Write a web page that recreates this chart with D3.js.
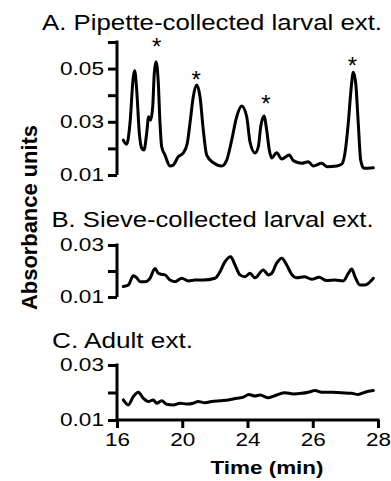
<!DOCTYPE html>
<html>
<head>
<meta charset="utf-8">
<script src="https://cdn.jsdelivr.net/npm/d3@7"></script>
<style>
  html, body { margin: 0; padding: 0; background: #fff; }
  svg { display: block; }
  text { font-family: Arial, "Liberation Sans", Helvetica, sans-serif; fill: #000; }
</style>
</head>
<body>
<svg id="chart" width="391" height="481"></svg>
<script>
// ---------- DATA ----------
const xTickValues = [16, 20, 24, 26, 28];
const xTickLabels = ["16", "20", "24", "26", "28"];

const panelTitles = ["A. Pipette-collected larval ext.", "B. Sieve-collected larval ext.", "C. Adult ext."];

const timesA = [16.386,16.595,16.797,16.999,17.085,17.208,17.367,17.514,17.655,17.821,17.943,18.066,18.189,18.286,18.391,18.532,18.636,18.740,18.943,19.249,19.452,19.758,20.064,20.310,20.475,20.677,20.886,21.088,21.290,21.499,21.903,22.418,22.725,23.031,23.338,23.644,23.951,24.077,24.230,24.331,24.405,24.506,24.588,24.668,24.742,24.895,25.048,25.281,25.404,25.661,25.864,26.017,26.274,26.446,26.734,26.887,26.988,27.089,27.172,27.242,27.316,27.395,27.469,27.570,27.855];
const valuesA = [0.0231,0.0216,0.0295,0.0469,0.0492,0.0419,0.0258,0.0201,0.0194,0.0258,0.0319,0.0307,0.0357,0.0483,0.0526,0.0446,0.0295,0.0206,0.0175,0.0134,0.0138,0.0169,0.0183,0.0220,0.0295,0.0394,0.0438,0.0394,0.0269,0.0175,0.0146,0.0134,0.0156,0.0231,0.0319,0.0359,0.0319,0.0224,0.0183,0.0206,0.0281,0.0322,0.0269,0.0194,0.0164,0.0184,0.0160,0.0175,0.0154,0.0144,0.0150,0.0134,0.0144,0.0131,0.0134,0.0141,0.0183,0.0295,0.0419,0.0486,0.0446,0.0295,0.0156,0.0125,0.0127];

const timesB = [16.386,16.693,16.999,17.208,17.410,17.716,18.023,18.329,18.532,18.740,18.943,19.249,19.555,19.966,20.371,20.782,21.290,22.008,22.314,22.621,22.970,23.234,23.541,23.847,24.077,24.230,24.484,24.638,24.742,24.895,25.048,25.202,25.355,25.508,25.741,25.968,26.192,26.428,26.682,26.936,27.090,27.194,27.295,27.448,27.601,27.856];
const valuesB = [0.0140,0.0146,0.0182,0.0174,0.0159,0.0159,0.0172,0.0210,0.0191,0.0187,0.0185,0.0165,0.0159,0.0172,0.0162,0.0165,0.0165,0.0172,0.0197,0.0236,0.0255,0.0223,0.0185,0.0178,0.0191,0.0174,0.0204,0.0185,0.0191,0.0230,0.0249,0.0223,0.0187,0.0174,0.0178,0.0168,0.0176,0.0163,0.0165,0.0162,0.0191,0.0208,0.0178,0.0146,0.0146,0.0172];

const timesC = [16.386,16.693,16.999,17.306,17.612,17.919,18.225,18.434,18.740,19.047,19.451,19.862,20.272,20.677,20.984,21.395,21.805,22.314,22.823,23.338,23.743,24.040,24.230,24.383,24.638,24.895,25.149,25.404,25.661,25.864,26.069,26.274,26.581,26.887,27.194,27.396,27.601,27.856];
const valuesC = [0.0173,0.0155,0.0185,0.0201,0.0179,0.0167,0.0173,0.0161,0.0170,0.0157,0.0155,0.0161,0.0158,0.0161,0.0167,0.0163,0.0167,0.0170,0.0173,0.0179,0.0183,0.0193,0.0187,0.0191,0.0181,0.0191,0.0199,0.0195,0.0197,0.0201,0.0207,0.0201,0.0201,0.0199,0.0197,0.0193,0.0201,0.0207];

// asterisks marking peaks in panel A
const starTimes = [18.434, 20.861, 24.561, 27.218];
const starValues = [0.0601, 0.0476, 0.0384, 0.0528];

const yTicksA = [0.01, 0.02, 0.03, 0.04, 0.05, 0.06];
const yLabelsA = [0.01, 0.03, 0.05];
const yTicksBC = [0.01, 0.02, 0.03];
const yLabelsBC = [0.01, 0.03];

// ---------- LAYOUT ----------
const svg = d3.select("#chart");
const x0 = 117, x1 = 378;
const x = d3.scaleLinear()
  .domain(xTickValues)
  .range(xTickValues.map((d, i) => x0 + i * (x1 - x0) / (xTickValues.length - 1)));

const panels = [
  { title: panelTitles[0], tx: 42, ty: 30, tl: 340, times: timesA, values: valuesA,
    domain: [0.01, 0.06], range: [175, 42], ticks: yTicksA, labels: yLabelsA },
  { title: panelTitles[1], tx: 51.5, ty: 227, tl: 322, times: timesB, values: valuesB,
    domain: [0.01, 0.03], range: [297, 245], ticks: yTicksBC, labels: yLabelsBC },
  { title: panelTitles[2], tx: 52, ty: 348, tl: 141, times: timesC, values: valuesC,
    domain: [0.01, 0.03], range: [420, 365], ticks: yTicksBC, labels: yLabelsBC }
];

const STROKE = 3;

panels.forEach((p, pi) => {
  const y = d3.scaleLinear().domain(p.domain).range(p.range);

  // title
  svg.append("text")
    .attr("x", p.tx).attr("y", p.ty)
    .attr("font-size", 22)
    .attr("textLength", p.tl)
    .attr("lengthAdjust", "spacingAndGlyphs")
    .text(p.title);

  // y axis
  const yAxis = d3.axisLeft(y)
    .tickValues(p.ticks)
    .tickSize(9)
    .tickSizeOuter(0)
    .tickPadding(4)
    .tickFormat(d => p.labels.some(l => Math.abs(l - d) < 1e-9) ? d3.format(".2f")(d) : "");
  const gy = svg.append("g").attr("transform", `translate(${x0},0)`).call(yAxis);
  gy.select(".domain").attr("stroke", "#000").attr("stroke-width", STROKE)
    .attr("d", `M0,${p.range[0] + (pi === 2 ? 1.5 : 0)}V${p.range[1] - 1.5}`);
  gy.selectAll(".tick line").attr("stroke", "#000").attr("stroke-width", STROKE);
  gy.selectAll(".tick text")
    .attr("fill", "#000")
    .attr("font-size", 18.5)
    .attr("font-family", 'Arial, "Liberation Sans", Helvetica, sans-serif')
    .attr("textLength", function () { return this.textContent ? 44 : null; })
    .attr("lengthAdjust", "spacingAndGlyphs");

  // trace
  const line = d3.line()
    .x((d, i) => x(p.times[i]))
    .y((d, i) => y(p.values[i]))
    .curve(d3.curveMonotoneX);
  svg.append("path")
    .datum(p.values)
    .attr("fill", "none")
    .attr("stroke", "#000")
    .attr("stroke-width", 3)
    .attr("stroke-linejoin", "round")
    .attr("stroke-linecap", "round")
    .attr("d", line);

  if (pi === 0) {
    svg.selectAll(".star")
      .data(starTimes)
      .enter().append("text")
      .attr("class", "star")
      .attr("x", d => x(d))
      .attr("y", (d, i) => y(starValues[i]) + 13)
      .attr("text-anchor", "middle")
      .attr("font-size", 24)
      .text("*");
  }

  if (pi === 2) {
    const xAxis = d3.axisBottom(x)
      .tickValues(xTickValues)
      .tickSize(8)
      .tickSizeOuter(0)
      .tickPadding(5)
      .tickFormat((d, i) => xTickLabels[i]);
    const gx = svg.append("g").attr("transform", `translate(0,${p.range[0]})`).call(xAxis);
    gx.select(".domain").attr("stroke", "#000").attr("stroke-width", STROKE)
      .attr("d", `M${x0},0H${x1 + 1.5}`);
    gx.selectAll(".tick line").attr("stroke", "#000").attr("stroke-width", STROKE);
    gx.selectAll(".tick text")
      .attr("fill", "#000")
      .attr("font-size", 18.5)
      .attr("font-family", 'Arial, "Liberation Sans", Helvetica, sans-serif')
      .attr("textLength", 25)
      .attr("lengthAdjust", "spacingAndGlyphs");
  }
});

// axis titles
svg.append("text")
  .attr("x", 267).attr("y", 474)
  .attr("text-anchor", "middle")
  .attr("font-size", 19)
  .attr("font-weight", "bold")
  .attr("textLength", 113)
  .attr("lengthAdjust", "spacingAndGlyphs")
  .text("Time (min)");

svg.append("text")
  .attr("transform", "translate(37,217.5) rotate(-90)")
  .attr("text-anchor", "middle")
  .attr("font-size", 22)
  .attr("font-weight", "bold")
  .attr("textLength", 185)
  .attr("lengthAdjust", "spacingAndGlyphs")
  .text("Absorbance units");
</script>
</body>
</html>
